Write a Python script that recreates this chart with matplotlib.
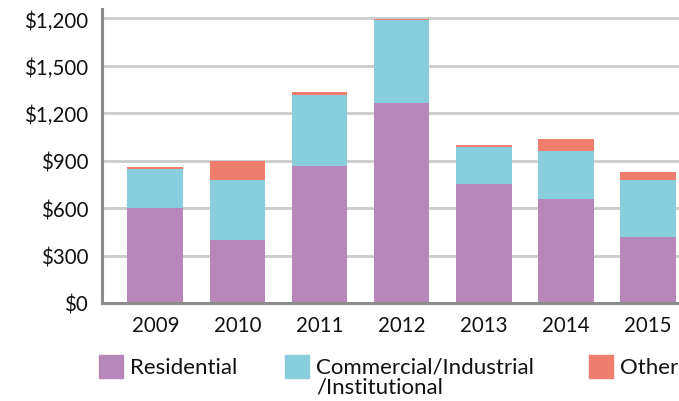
import numpy as np
import matplotlib
matplotlib.use("Agg")
import matplotlib.pyplot as plt
from matplotlib.patches import Rectangle

years = ["2009", "2010", "2011", "2012", "2013", "2014", "2015"]
residential = [600, 400, 867, 1267, 756, 657, 417]
commercial = [250, 379, 448, 524, 234, 304, 364]
other = [11, 121, 20, 8, 8, 78, 49]

ytick_vals = [0, 300, 600, 900, 1200, 1500, 1800]
ytick_labels = ["$0", "$300", "$600", "$900", "$1,200", "$1,500", "$1,200"]

c_res = "#B887BA"
c_com = "#88CEDD"
c_oth = "#F07E6E"

plt.rcParams['font.family'] = ['Lato', 'DejaVu Sans']

fig = plt.figure(figsize=(6.79, 4.02), dpi=100)
ax = fig.add_axes([102 / 679, 1 - 304 / 402, 1 - 102 / 679, (304 - 10) / 402])

x = np.arange(len(years))
res = np.array(residential)
com = np.array(commercial)
oth = np.array(other)
w = 0.68
ax.bar(x, res, w, color=c_res, zorder=3)
ax.bar(x, com, w, bottom=res, color=c_com, zorder=3)
ax.bar(x, oth, w, bottom=res + com, color=c_oth, zorder=3)

ax.set_xlim(-0.65, 6.38)
ax.set_ylim(0, 1860)
ax.set_yticks(ytick_vals)
ax.set_yticklabels(ytick_labels)
ax.set_xticks(x)
ax.set_xticklabels(years)
ax.tick_params(axis='both', length=0, labelsize=14.8, colors='#111111')
ax.tick_params(axis='y', pad=10)
ax.tick_params(axis='x', pad=9)
ax.grid(axis='y', color='#CBCBCB', linewidth=2, zorder=0)
for s in ['top', 'right']:
    ax.spines[s].set_visible(False)
for s in ['left', 'bottom']:
    ax.spines[s].set_color('#8C8C8C')
    ax.spines[s].set_linewidth(2.2)
    ax.spines[s].set_zorder(4)

# legend drawn by hand
items = [("Residential", c_res, 99), ("Commercial/Industrial\n/Institutional", c_com, 285), ("Other", c_oth, 589)]
for label, col, px in items:
    fig.patches.append(Rectangle((px / 679, 1 - 379 / 402), 24 / 679, 23 / 402,
                                 transform=fig.transFigure, color=col))
    fig.text((px + 31) / 679, 1 - 358 / 402, label, fontsize=16, va='top', ha='left',
             color='#111111', linespacing=1.0)

fig.savefig("out.png", dpi=100)
